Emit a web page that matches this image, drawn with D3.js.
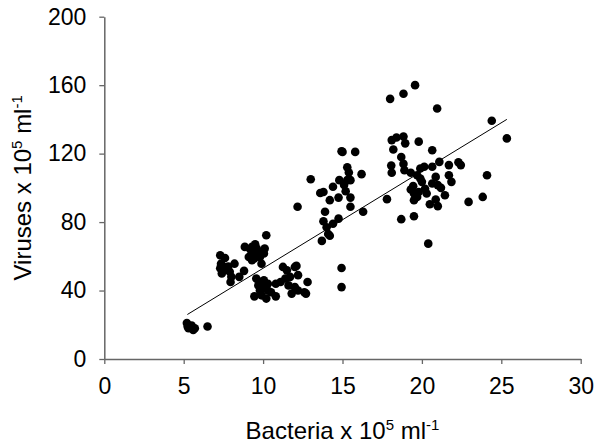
<!DOCTYPE html>
<html><head><meta charset="utf-8">
<script src="https://cdn.jsdelivr.net/npm/d3@7"></script>
<style>body{margin:0;background:#fff}svg{display:block}text{font-family:"Liberation Sans",Arial,sans-serif}</style>
</head><body>
<svg id="c" width="600" height="447"></svg>
<script>
const xTicks = [0,5,10,15,20,25,30];
const yTicks = [0,40,80,120,160,200];
const bacteria = [
 5.2,5.25,5.5,5.7,5.6,5.3,6.5,
 7.3,7.6,7.35,7.5,7.3,7.6,7.4,7.9,8.0,8.2,8.5,7.95,8.8,7.8,
 8.85,9.2,9.5,9.6,10.1,10.2,9.3,9.1,9.45,9.8,9.9,9.3,9.7,10.05,9.3,
 9.57,9.8,10.05,9.7,10.05,10.3,9.45,9.9,10.2,10.5,10.8,10.8,9.8,10.3,
 11.25,11.5,12.0,12.1,11.4,11.7,12.2,11.1,11.6,12.0,11.8,12.2,12.6,12.8,12.7,12.17,13.0,
 13.6,13.8,13.9,13.8,13.7,14.0,14.1,14.2,14.2,14.4,14.4,14.75,14.75,14.8,14.94,15.0,15.1,15.3,15.3,15.4,15.5,15.5,15.5,15.8,16.2,16.3,14.94,14.94,15.2,
 18.0,18.84,19.57,20.96,18.1,18.4,18.84,18.95,19.8,18.2,20.65,18.07,18.1,18.7,18.84,18.9,19.3,19.7,19.9,20.15,20.65,21.1,21.7,22.3,22.45,
 20.87,20.65,21.0,21.7,21.86,19.9,19.45,19.3,19.5,19.8,20.0,19.5,19.7,21.45,20.87,20.5,21.0,17.8,18.7,19.5,20.4,22.94,23.83,24.1,24.4,25.35,20.3,20.2,21.2
];
const viruses = [
 21,19,19.5,18,17,18,19,
 60.6,59,55.7,54,53,52,50,51,48,55.7,48,45,51.5,54,
 65.5,64,67,64.5,64.5,72.3,61.6,59.6,58.7,59.6,55.7,57.7,62,61.6,65.5,
 47,45,46,43,42,44,36.6,37.2,35.3,39,36.6,44,40,40,
 53.8,51.8,53.8,54.4,47,48,49,45,43,42,38.2,40,39,45,38.2,89,105,
 97,97.6,86,80.5,69,77,73,72,92.8,100.6,79,82,94.3,104.5,121.4,121,101.7,104.5,112,109,94.3,89,104.5,121,108,86,53.2,42,98,
 152,155,160,146.4,127.9,129.4,130,126,127,122.4,122,113,108.8,118,114,110.3,108.8,107.4,111.3,112.3,112.3,115.2,113.3,115,113.3,
 106.4,102.5,101.6,107.4,103.5,105.5,101,99,96.7,97.6,103.5,92.8,94.7,95.7,93.2,90.4,89.3,93.4,81.7,83.4,67.4,91.8,94.7,107.4,139.2,128.9,96.7,99.5,100
];
const fitX = [5.23, 25.35];
const fitY = [26, 140];

const svg = d3.select("#c");
const m = {l:104.3, r:19.3, t:16.7, b:88};
const W = 600, H = 447;
const x = d3.scaleLinear().domain([0,30]).range([m.l, W-m.r]);
const y = d3.scaleLinear().domain([0,200]).range([H-m.b, m.t]);

const axisColor = "#666";
const gx = svg.append("g").attr("transform",`translate(0,${H-m.b})`)
  .call(d3.axisBottom(x).tickValues(xTicks).tickFormat(d3.format("d")).tickSize(5).tickPadding(14).tickSizeOuter(0));
const gy = svg.append("g").attr("transform",`translate(${m.l},0)`)
  .call(d3.axisLeft(y).tickValues(yTicks).tickFormat(d3.format("d")).tickSize(5).tickPadding(13).tickSizeOuter(0));
[gx,gy].forEach(g=>{
  g.select(".domain").attr("stroke",axisColor).attr("stroke-width",1.5);
  g.selectAll(".tick line").attr("stroke",axisColor).attr("stroke-width",1.3);
  g.selectAll(".tick text").attr("fill","#000").style("font-size","23px").style("font-family",'"Liberation Sans",Arial,sans-serif');
});

svg.append("line")
  .attr("x1",x(fitX[0])).attr("y1",y(fitY[0]))
  .attr("x2",x(fitX[1])).attr("y2",y(fitY[1]))
  .attr("stroke","#000").attr("stroke-width",1);

svg.append("g").selectAll("circle").data(bacteria.map((b,i)=>[b,viruses[i]]))
  .join("circle")
  .attr("cx",d=>x(d[0])).attr("cy",d=>y(d[1])).attr("r",4.3).attr("fill","#000");

function title(sel, base){
  sel.style("font-size","24px").attr("fill","#000").attr("text-anchor","middle");
  sel.append("tspan").text(base + " x 10");
  sel.append("tspan").attr("dy",-9).style("font-size","15px").text("5");
  sel.append("tspan").attr("dy",9).text(" ml");
  sel.append("tspan").attr("dy",-9).style("font-size","15px").text("-1");
}
svg.append("text").attr("x",(m.l+W-m.r)/2).attr("y",439).call(title,"Bacteria");
svg.append("text").attr("transform",`translate(31,${(m.t+H-m.b)/2}) rotate(-90)`).call(title,"Viruses");
</script>
</body></html>
